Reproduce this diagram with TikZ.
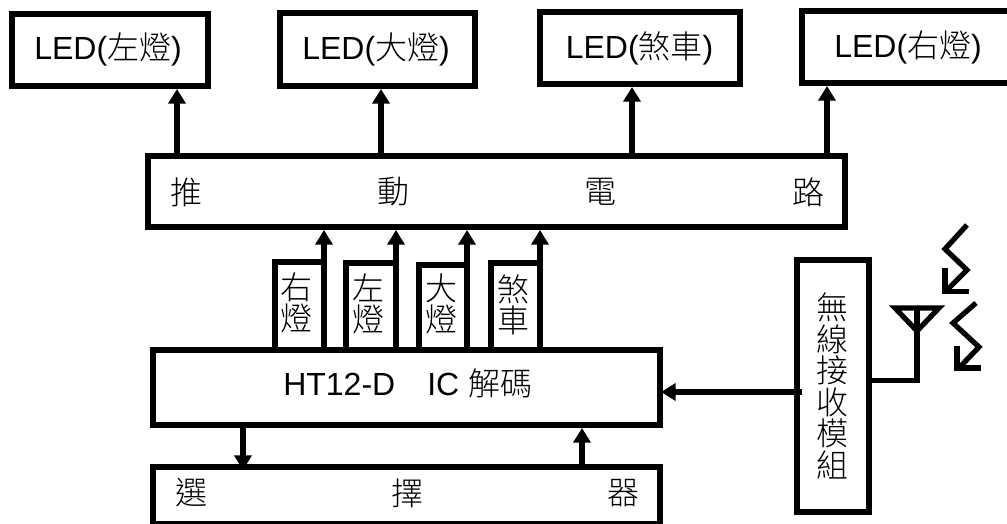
\documentclass[tikz,border=0pt]{standalone}
\usepackage{fontspec}
\setmainfont{Liberation Sans}
\newfontfamily\cjk{Noto Sans CJK TC Light}
\usetikzlibrary{arrows.meta}
\tikzset{
  boxpx/.style n args={4}{draw=black, line width=4.5pt, fill=white, inner sep=0pt, outer sep=0pt, minimum width=#3*0.75pt, minimum height=#4*0.75pt, at={(#1,#2)}},
  txt/.style={font=\fontsize{24}{27}\selectfont, inner sep=0pt, text=black},
  ch/.style={font=\fontsize{24}{27}\selectfont\cjk, inner sep=0pt, text=black},
  stack/.style={font=\fontsize{24}{#1}\selectfont\cjk, inner sep=0pt, text=black, align=center},
  arr/.style={line width=4.5pt, shorten >=2.25pt, -{Triangle[width=12.75pt,length=11pt]}},
  wire/.style={line width=3.9pt, line cap=butt, line join=miter}
}
\begin{document}
\begin{tikzpicture}[x=0.75pt,y=-0.75pt]
\path[use as bounding box, fill=white] (0,0) rectangle (1007,524);
\clip (0,0) rectangle (1007,524);
% output boxes
\node[boxpx={110}{50}{196}{72}] (led1) {};
\node[boxpx={377.5}{49.5}{195}{73}] (led2) {};
\node[boxpx={640}{48}{200}{72}] (led3) {};
\node[boxpx={912}{47}{220}{72}] (led4) {};
\node[txt, anchor=base west] (t1) at (34,60) {LED({\cjk 左燈})};
\node[txt, anchor=base west] (t2) at (302,60) {LED({\cjk 大燈})};
\node[txt, anchor=base west] (t3) at (565.5,59) {LED({\cjk 煞車})};
\node[txt, anchor=base west] (t4) at (834,57.5) {LED({\cjk 右燈})};
% driver
\node[boxpx={496.5}{191.5}{697}{71}] (drv) {};
\node[ch] (d1) at (186,192) {推};
\node[ch] (d2) at (393,192) {動};
\node[ch] (d3) at (600,192) {電};
\node[ch] (d4) at (808,192) {路};
% small boxes
\node[boxpx={299.5}{306}{49}{88}] (s1) {};
\node[boxpx={371}{306.5}{50}{87}] (s2) {};
\node[boxpx={443}{307.5}{48}{85}] (s3) {};
\node[boxpx={515.5}{306.5}{49}{87}] (s4) {};
\node[stack=23.25pt] (st1) at (296,302.5) {右\\燈};
\node[stack=23.25pt] (st2) at (368,303.5) {左\\燈};
\node[stack=23.25pt] (st3) at (441,303.5) {大\\燈};
\node[stack=23.25pt] (st4) at (513,305) {煞\\車};
% decoder
\node[boxpx={406.5}{387.5}{507}{75}] (dec) {};
\node[txt, anchor=base west] (dt) at (283,395) {HT12-D\hspace{24pt}IC {\cjk 解碼}};
% selector
\node[boxpx={406.5}{495.5}{507}{57}] (sel) {};
\node[ch] (e1) at (191,493) {選};
\node[ch] (e2) at (407,493) {擇};
\node[ch] (e3) at (623,493) {器};
% radio
\node[boxpx={833}{386}{72}{252}] (rad) {};
\node[stack=23.6pt] (rt) at (832,386) {無\\線\\接\\收\\模\\組};
% connector columns
\coordinate (c1) at (177,120);
\coordinate (c2) at (381,120);
\coordinate (c3) at (632,120);
\coordinate (c4) at (827,120);
\coordinate (cd) at (243,445);
\coordinate (cu) at (582,445);
\coordinate (cr) at (730,392);
\foreach \i/\l in {1/led1,2/led2,3/led3,4/led4}
  \draw[arr] (c\i |- drv.north) -- (c\i |- \l.south);
\foreach \s in {s1,s2,s3,s4}
  \draw[arr] (\s.east |- dec.north) -- (\s.east |- drv.south);
\draw[arr, shorten >=-2.25pt] (cd |- dec.south) -- (cd |- sel.north);
\draw[arr] (cu |- sel.north) -- (cu |- dec.south);
\draw[arr, shorten >=0.75pt] ([xshift=3.75pt]rad.west |- cr) -- (dec.east |- cr);
% antenna
\coordinate (mast) at (917,380.5);
\coordinate (mtop) at (917,308);
\coordinate (al) at (895,308);
\coordinate (ar) at (939,308);
\coordinate (ap) at (917,331);
\draw[wire] (rad.east |- mast) -- (mast) -- (mtop);
\draw[wire] (al) -- (ar) -- (ap) -- cycle;
% radio waves
\draw[wire] (967,225) -- (945,249) -- (967,270) -- (946,291);
\draw[wire] (945,268) -- (945,291.5) -- (969,291.5);
\draw[wire] (976,303) -- (953,323) -- (979,347) -- (958,369);
\draw[wire] (957,346) -- (957,368) -- (981,368);
\end{tikzpicture}
\end{document}
